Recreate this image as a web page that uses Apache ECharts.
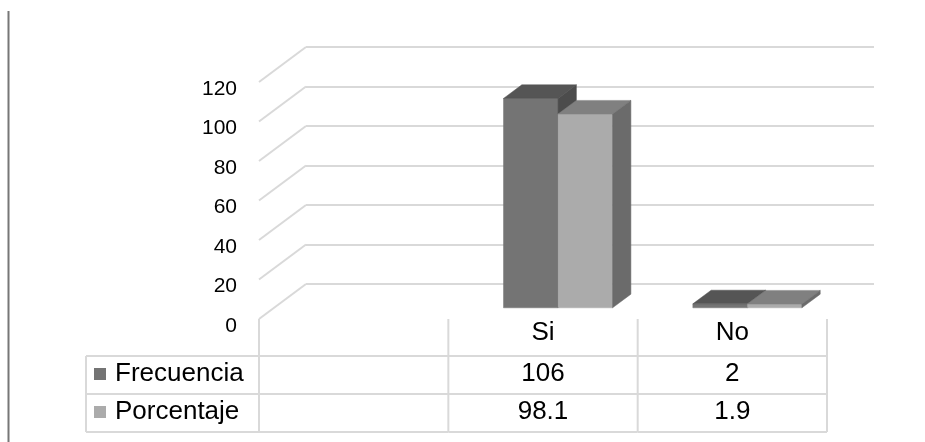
<!DOCTYPE html>
<html>
<head>
<meta charset="utf-8">
<script src="https://cdn.jsdelivr.net/npm/echarts@6/dist/echarts.min.js"></script>
<style>
html,body{margin:0;padding:0;background:#fff;}
#chart{width:925px;height:442px;}
</style>
</head>
<body>
<div id="chart"></div>
<script>
const categories = ['', 'Si', 'No'];
const frecuencia = [null, 106, 2];
const porcentaje = [null, 98.1, 1.9];
const seriesNames = ['Frecuencia', 'Porcentaje'];
const yTicks = [0, 20, 40, 60, 80, 100, 120];

const GRID_LEFT = 259, GRID_TOP = 82, GRID_W = 568, GRID_H = 237;
const LABEL_SHIFT = 7;
const DX = 47, DY = -35;           // full depth of the 3D box
const BAR_OFF = 0.32, BAR_DEPTH = 0.39, BAR_FRAC = 0.288;
const ROW_Y = [356, 394, 432];
const TABLE_LEFT = 86;
const LINE_C = '#d9d9d9';
const colors = {
  Frecuencia: {front: '#747474', top: '#555555', side: '#4c4c4c'},
  Porcentaje: {front: '#ababab', top: '#808080', side: '#6b6b6b'}
};
const FONT_TICK = 'Liberation Sans';
const FONT_TABLE = 'Liberation Sans';

const chart = echarts.init(document.getElementById('chart'), null, {renderer: 'canvas'});

function barRender(name, seriesIdx) {
  return function (params, api) {
    const i = api.value(0), v = api.value(1);
    const band = api.size([1, 0])[0];
    const base = api.coord([i, 0]);
    const topP = api.coord([i, v]);
    const bw = band * BAR_FRAC;
    const ox = DX * BAR_OFF, oy = DY * BAR_OFF;
    const dx = DX * BAR_DEPTH, dy = DY * BAR_DEPTH;
    const x0 = base[0] - bw + seriesIdx * bw + ox;
    const x1 = x0 + bw;
    const yb = base[1] + oy, yt = topP[1] + oy;
    const c = colors[name];
    return {
      type: 'group',
      children: [
        {type: 'polygon', shape: {points: [[x0, yb], [x1, yb], [x1, yt], [x0, yt]]}, style: {fill: c.front, stroke: c.front, lineWidth: 0.5}},
        {type: 'polygon', shape: {points: [[x0, yt], [x0 + dx, yt + dy], [x1 + dx, yt + dy], [x1, yt]]}, style: {fill: c.top, stroke: c.top, lineWidth: 0.5}},
        {type: 'polygon', shape: {points: [[x1, yt], [x1 + dx, yt + dy], [x1 + dx, yb + dy], [x1, yb]]}, style: {fill: c.side, stroke: c.side, lineWidth: 0.5}}
      ]
    };
  };
}

const barData = (arr) => arr.map((v, i) => [i, v]).filter(d => d[1] != null);

const option = {
  animation: false,
  backgroundColor: '#ffffff',
  grid: [
    {left: GRID_LEFT, top: GRID_TOP, width: GRID_W, height: GRID_H},
    {left: GRID_LEFT + DX, top: GRID_TOP + DY, width: GRID_W, height: GRID_H},
    {left: GRID_LEFT, top: GRID_TOP + LABEL_SHIFT, width: GRID_W, height: GRID_H}
  ],
  xAxis: [
    {gridIndex: 0, type: 'category', data: categories, show: false},
    {gridIndex: 1, type: 'category', data: categories, show: false},
    {gridIndex: 2, type: 'category', data: categories, show: false}
  ],
  yAxis: [
    {gridIndex: 0, type: 'value', min: 0, max: 120, interval: 20,
      axisLine: {show: false}, axisTick: {show: false}, splitLine: {show: false}, axisLabel: {show: false}},
    {gridIndex: 1, type: 'value', min: 0, max: 120, interval: 20,
      axisLine: {show: false}, axisTick: {show: false}, axisLabel: {show: false},
      splitLine: {show: true, lineStyle: {color: LINE_C, width: 2}}},
    {gridIndex: 2, type: 'value', min: 0, max: 120, interval: 20,
      axisLine: {show: false}, axisTick: {show: false}, splitLine: {show: false},
      axisLabel: {color: '#000', fontSize: 21, fontFamily: FONT_TICK, margin: 22}}
  ],
  series: [
    {
      name: 'diag', type: 'custom', xAxisIndex: 0, yAxisIndex: 0, z: 1, clip: false, silent: true,
      data: yTicks.map(v => [0, v]),
      renderItem: function (params, api) {
        const band = api.size([1, 0])[0];
        const p = api.coord([0, api.value(1)]);
        const lx = p[0] - band / 2;
        return {type: 'line', shape: {x1: lx, y1: p[1], x2: lx + DX, y2: p[1] + DY}, style: {stroke: LINE_C, lineWidth: 2}};
      }
    },
    {
      name: seriesNames[0], type: 'custom', xAxisIndex: 0, yAxisIndex: 0, z: 3, clip: false,
      data: barData(frecuencia), renderItem: barRender(seriesNames[0], 0)
    },
    {
      name: seriesNames[1], type: 'custom', xAxisIndex: 0, yAxisIndex: 0, z: 4, clip: false,
      data: barData(porcentaje), renderItem: barRender(seriesNames[1], 1)
    },
    {
      name: 'table', type: 'custom', xAxisIndex: 0, yAxisIndex: 0, z: 2, clip: false, silent: true,
      data: categories.map((c, i) => [i, 0]),
      renderItem: function (params, api) {
        const i = api.value(0);
        const band = api.size([1, 0])[0];
        const p = api.coord([i, 0]);
        const cx = p[0], left = cx - band / 2, right = cx + band / 2;
        const yFloor = p[1];
        const ls = {stroke: LINE_C, lineWidth: 2};
        const ch = [
          {type: 'line', shape: {x1: left, y1: yFloor, x2: left, y2: ROW_Y[2]}, style: ls}
        ];
        if (i === categories.length - 1) {
          ch.push({type: 'line', shape: {x1: right, y1: yFloor, x2: right, y2: ROW_Y[2]}, style: ls});
        }
        ROW_Y.forEach(y => ch.push({type: 'line', shape: {x1: left, y1: y, x2: right, y2: y}, style: ls}));
        const ts = {fontSize: 26, fontFamily: FONT_TABLE, fill: '#000', align: 'center', verticalAlign: 'middle'};
        ch.push({type: 'text', style: Object.assign({text: categories[i], x: cx, y: 333}, ts)});
        const f = frecuencia[i], q = porcentaje[i];
        ch.push({type: 'text', style: Object.assign({text: f == null ? '' : String(f), x: cx, y: 373.5}, ts)});
        ch.push({type: 'text', style: Object.assign({text: q == null ? '' : String(q), x: cx, y: 411.5}, ts)});
        return {type: 'group', children: ch};
      }
    }
  ],
  graphic: [
    {type: 'line', shape: {x1: 8.5, y1: 11, x2: 8.5, y2: 442}, style: {stroke: '#777777', lineWidth: 2}},
    {type: 'line', shape: {x1: TABLE_LEFT, y1: ROW_Y[0], x2: TABLE_LEFT, y2: ROW_Y[2]}, style: {stroke: LINE_C, lineWidth: 2}},
    {type: 'line', shape: {x1: TABLE_LEFT, y1: ROW_Y[0], x2: GRID_LEFT, y2: ROW_Y[0]}, style: {stroke: LINE_C, lineWidth: 2}},
    {type: 'line', shape: {x1: TABLE_LEFT, y1: ROW_Y[1], x2: GRID_LEFT, y2: ROW_Y[1]}, style: {stroke: LINE_C, lineWidth: 2}},
    {type: 'line', shape: {x1: TABLE_LEFT, y1: ROW_Y[2], x2: GRID_LEFT, y2: ROW_Y[2]}, style: {stroke: LINE_C, lineWidth: 2}},
    {type: 'rect', shape: {x: 94, y: 368, width: 12, height: 12}, style: {fill: colors.Frecuencia.front}},
    {type: 'rect', shape: {x: 94, y: 406, width: 12, height: 12}, style: {fill: colors.Porcentaje.front}},
    {type: 'text', style: {text: seriesNames[0], x: 115, y: 373.5, fontSize: 26, fontFamily: FONT_TABLE, fill: '#000', verticalAlign: 'middle'}},
    {type: 'text', style: {text: seriesNames[1], x: 115, y: 411.5, fontSize: 26, fontFamily: FONT_TABLE, fill: '#000', verticalAlign: 'middle'}}
  ]
};
chart.setOption(option);
</script>
</body>
</html>
